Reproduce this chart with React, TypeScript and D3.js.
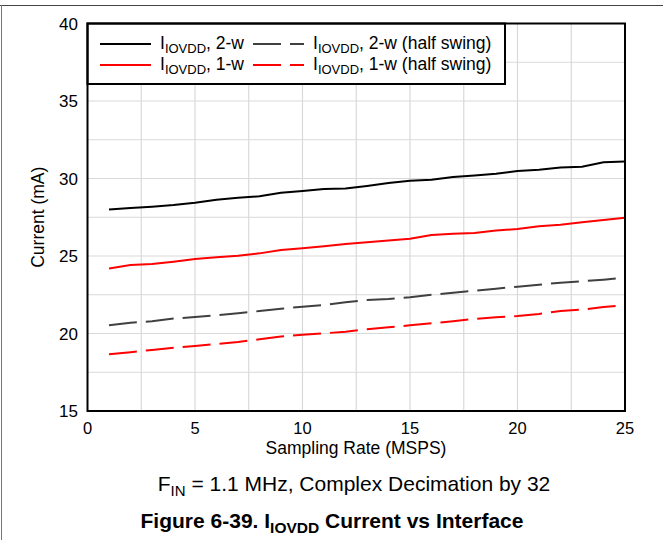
import React from "react";
import * as d3 from "d3";

const rates = [1, 2, 3, 4, 5, 6, 7, 8, 9, 10, 11, 12, 13, 14, 15, 16, 17, 18, 19, 20, 21, 22, 23, 24, 25];
const iovdd2w = [28.0, 28.1, 28.18, 28.29, 28.44, 28.63, 28.76, 28.85, 29.08, 29.2, 29.32, 29.36, 29.52, 29.71, 29.86, 29.92, 30.1, 30.2, 30.31, 30.48, 30.57, 30.71, 30.76, 31.05, 31.09];
const iovdd1w = [24.2, 24.42, 24.48, 24.63, 24.81, 24.92, 25.02, 25.17, 25.39, 25.5, 25.63, 25.77, 25.88, 26.0, 26.12, 26.35, 26.44, 26.48, 26.65, 26.74, 26.92, 27.02, 27.17, 27.32, 27.47];
const iovdd2wHalf = [20.53, 20.7, 20.79, 20.96, 21.06, 21.17, 21.3, 21.45, 21.6, 21.73, 21.84, 22.01, 22.16, 22.23, 22.34, 22.5, 22.63, 22.76, 22.89, 23.02, 23.15, 23.28, 23.37, 23.47, 23.6];
const iovdd1wHalf = [18.66, 18.79, 18.94, 19.08, 19.19, 19.32, 19.45, 19.63, 19.8, 19.92, 20.01, 20.12, 20.27, 20.4, 20.53, 20.66, 20.79, 20.94, 21.05, 21.13, 21.26, 21.45, 21.54, 21.71, 21.82];

const xTicks = [0, 5, 10, 15, 20, 25];
const yTicks = [15, 20, 25, 30, 35, 40];
const xGrid = [2.5, 5, 7.5, 10, 12.5, 15, 17.5, 20, 22.5];
const yGrid = [17.5, 20, 22.5, 25, 27.5, 30, 32.5, 35, 37.5];

const seriesNames = ["2-w", "1-w", "2-w (half swing)", "1-w (half swing)"];

const FONT = "'Liberation Sans', Arial, sans-serif";

export default function App() {
  const left = 87.5, right = 625, top = 23.5, bottom = 411;
  const x = d3.scaleLinear().domain([0, 25]).range([left, right]);
  const y = d3.scaleLinear().domain([15, 40]).range([bottom, top]);
  const line = (vals: number[]) =>
    d3.line<number>().x((_, i) => x(rates[i])).y((v) => y(v))(vals) || "";

  const series = [
    { vals: iovdd2w, color: "#000000", dash: undefined as string | undefined, name: seriesNames[0] },
    { vals: iovdd1w, color: "#ff0000", dash: undefined, name: seriesNames[1] },
    { vals: iovdd2wHalf, color: "#404040", dash: "28 9", name: seriesNames[2] },
    { vals: iovdd1wHalf, color: "#ff0000", dash: "28 9", name: seriesNames[3] },
  ];

  const legendItems = [
    { s: series[0], lx: 100, ty: 44 },
    { s: series[2], lx: 253, ty: 44 },
    { s: series[1], lx: 100, ty: 65 },
    { s: series[3], lx: 253, ty: 65 },
  ];

  return (
    <svg width={663} height={540} style={{ position: "absolute", left: 0, top: 0, background: "#fff" }} fontFamily={FONT}>
      <rect x={0} y={0} width={663} height={540} fill="#fff" />
      {/* page frame */}
      <line x1={0} x2={663} y1={5.5} y2={5.5} stroke="#444" strokeWidth={1} />
      <line x1={1.5} x2={1.5} y1={5} y2={540} stroke="#777" strokeWidth={1} />

      {/* grid */}
      {xGrid.map((g) => (
        <line key={"xg" + g} x1={x(g)} x2={x(g)} y1={top} y2={bottom} stroke="#d9d9d9" strokeWidth={1.2} />
      ))}
      {yGrid.map((g) => (
        <line key={"yg" + g} x1={left} x2={right} y1={y(g)} y2={y(g)} stroke="#d9d9d9" strokeWidth={1.2} />
      ))}

      {/* series */}
      {series.map((s, i) => (
        <path key={i} d={line(s.vals)} fill="none" stroke={s.color} strokeWidth={2} strokeDasharray={s.dash} />
      ))}

      {/* legend */}
      <rect x={left} y={top} width={505 - left} height={84 - top} fill="#fff" stroke="#000" strokeWidth={2} />
      {legendItems.map((it, i) => (
        <g key={i}>
          <line x1={it.lx} x2={it.lx + 51} y1={it.ty} y2={it.ty} stroke={it.s.color} strokeWidth={2} strokeDasharray={it.s.dash} />
          <text x={it.lx + 60} y={it.ty + 5} fontSize={17.5} fill="#000">
            I<tspan dy={4} fontSize={13}>IOVDD</tspan>
            <tspan dy={-4}>, {it.s.name}</tspan>
          </text>
        </g>
      ))}

      {/* plot frame */}
      <rect x={left} y={top} width={right - left} height={bottom - top} fill="none" stroke="#000" strokeWidth={2} />

      {/* ticks */}
      {yTicks.map((t) => (
        <text key={"yt" + t} x={78} y={y(t) + 6} fontSize={17} textAnchor="end" fill="#000">
          {t}
        </text>
      ))}
      {xTicks.map((t) => (
        <text key={"xt" + t} x={x(t)} y={434} fontSize={16.5} textAnchor="middle" fill="#000">
          {t}
        </text>
      ))}

      <text x={356} y={454} fontSize={17.5} textAnchor="middle" fill="#000">
        Sampling Rate (MSPS)
      </text>
      <text transform={`translate(44, ${(top + bottom) / 2}) rotate(-90)`} fontSize={17.5} textAnchor="middle" fill="#000">
        Current (mA)
      </text>

      <text x={354} y={491} fontSize={21} textAnchor="middle" fill="#000">
        F<tspan dy={5} fontSize={15}>IN</tspan>
        <tspan dy={-5}> = 1.1 MHz, Complex Decimation by 32</tspan>
      </text>
      <text x={332} y={528} fontSize={21} fontWeight="bold" textAnchor="middle" fill="#000">
        Figure 6-39. I<tspan dy={5} fontSize={15.5}>IOVDD</tspan>
        <tspan dy={-5}> Current vs Interface</tspan>
      </text>
    </svg>
  );
}
